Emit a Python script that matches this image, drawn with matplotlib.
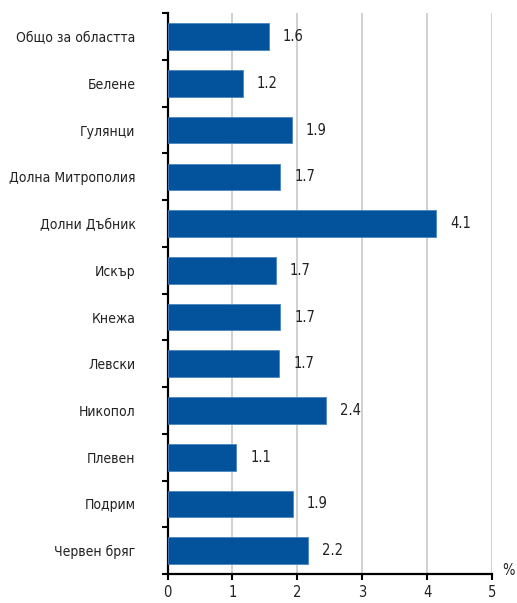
import numpy as np
import matplotlib.pyplot as plt

plt.rcParams['font.family'] = ['DejaVu Sans']
plt.rcParams['font.stretch'] = 'condensed'

#категории и стойности (%)
kategorii = ["Общо за областта", "Белене", "Гулянци", "Долна Митрополия",
             "Долни Дъбник", "Искър", "Кнежа", "Левски", "Никопол",
             "Плевен", "Подрим", "Червен бряг"]
stoinosti = [1.56, 1.16, 1.91, 1.74, 4.14, 1.67, 1.74, 1.72, 2.44, 1.06, 1.93, 2.17]
xticks = [0, 1, 2, 3, 4, 5]

sin = "#02529c"
fs = 10
fsn = 10.5

fig = plt.figure(figsize=(5.17, 6.03), dpi=100)
ax = fig.add_axes([0.324, 0.048, 0.628, 0.930])

y = np.arange(len(kategorii))
ax.barh(y, stoinosti, height=0.57, color=sin, edgecolor="#4a86c0", linewidth=0.6, zorder=3)

#надписи със стойностите
for yi, v in zip(y, stoinosti):
	ax.annotate("%.1f" % v, (v, yi), xytext=(10, 0), textcoords="offset points",
		va="center", ha="left", fontsize=fsn, color="#222222")

ax.set_xlim(0, 5)
ax.set_ylim(len(kategorii) - 0.5, -0.5)
ax.set_xticks(xticks)
ax.set_xticklabels([str(t) for t in xticks], fontsize=fsn, color="#222222")
ax.set_yticks(y)
ax.set_yticklabels(kategorii, fontsize=fs, color="#222222")
ax.set_yticks(np.arange(len(kategorii) + 1) - 0.5, minor=True)
ax.tick_params(axis="y", which="major", length=0, pad=23)
ax.tick_params(axis="y", which="minor", length=4.5, width=1.5, direction="out")
ax.tick_params(axis="x", which="major", length=4, width=1.5, direction="out", pad=4)

ax.xaxis.grid(True, color="#c8c8c8", linewidth=1.2, zorder=0)
ax.set_axisbelow(True)
for s in ["top", "right"]:
	ax.spines[s].set_visible(False)
ax.spines["left"].set_linewidth(1.6)
ax.spines["bottom"].set_linewidth(1.6)

ax.text(1.03, 0.006, "%", transform=ax.transAxes, fontsize=fsn, ha="left", va="center", color="#222222")

plt.savefig("out.png", dpi=100)
